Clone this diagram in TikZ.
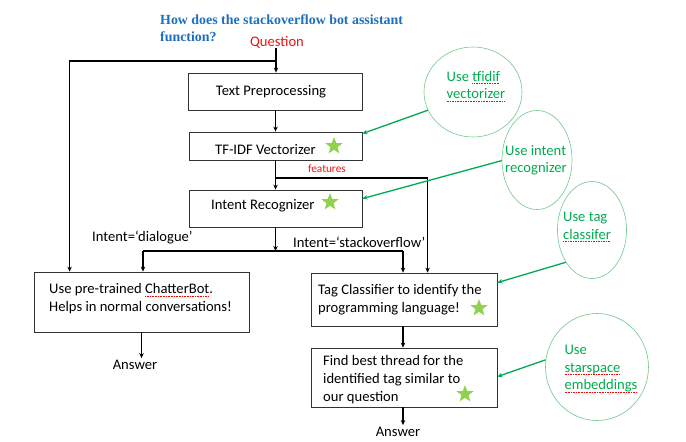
\documentclass[tikz,border=0pt]{standalone}
\usepackage{fontspec}
\setmainfont{Carlito}
\newfontfamily\titlefont{Liberation Serif}
\usetikzlibrary{shapes.geometric,arrows.meta}
\definecolor{titleblue}{RGB}{30,110,190}
\definecolor{qred}{RGB}{235,20,20}
\definecolor{ogreen}{RGB}{0,170,80}
\definecolor{egreen}{RGB}{110,200,140}
\definecolor{sgreen}{RGB}{146,208,80}
\newsavebox\sqbox
\newcommand\squig[1]{\sbox\sqbox{#1}\rlap{\textcolor{red}{\raisebox{-2.5pt}{\hbox to \wd\sqbox{\xleaders\hbox{\rule{1pt}{0.5pt}\kern0.6pt}\hfill}}}}\usebox\sqbox}
\begin{document}
\begin{tikzpicture}[x=1pt,y=-1pt,
  box/.style={draw=black!80, line width=0.8pt, inner sep=0pt},
  txt/.style={font=\fontsize{14.6}{18}\selectfont},
  arr/.style={-{Stealth[length=5pt,width=4.5pt]}, line width=1.1pt},
  ln/.style={line width=1.1pt},
  garr/.style={draw=ogreen, line width=1.3pt, -{Stealth[length=5pt,width=4.5pt]}},
  ell/.style={ellipse, draw=egreen, line width=0.6pt, inner sep=0pt},
  etxt/.style={text=ogreen, align=left, inner sep=0pt, font=\fontsize{14.6}{17.5}\selectfont},
  star5/.style={star, star points=5, star point ratio=2.4, fill=sgreen, minimum size=18pt, inner sep=0pt}
]
\useasboundingbox (0,0) rectangle (686,442);

% title
\node[anchor=north west, align=left, text=titleblue, inner sep=0pt,
      font=\titlefont\bfseries\fontsize{13.9}{16.5}\selectfont] (title) at (160,15)
  {How does the stackoverflow bot assistant\\function?};

\node[txt, text=qred, inner sep=0pt] (q) at (277,42) {Question};

% boxes
\node[box, minimum width=174pt, minimum height=37pt] (tp) at (275,91.5) {};
\node[box, minimum width=173pt, minimum height=28pt] (tf) at (275.5,146) {};
\node[box, minimum width=173pt, minimum height=37pt] (ir) at (275.5,208.5) {};
\node[box, minimum width=215pt, minimum height=60pt] (cb) at (141.5,302) {};
\node[box, minimum width=186pt, minimum height=53pt] (tag) at (404,299.5) {};
\node[box, minimum width=186pt, minimum height=59pt] (fd) at (404,377.5) {};

% box texts
\node[txt, inner sep=0pt] (tpt) at (271,92) {Text Preprocessing};
\node[txt, anchor=west, inner sep=0pt] (tft) at (215,150) {TF-IDF Vectorizer};
\node[txt, anchor=west, inner sep=0pt] (irt) at (211,206) {Intent Recognizer};
\node[txt, anchor=west, align=left, inner sep=0pt] (cbt) at (49,299)
  {Use pre-trained \squig{ChatterBot}.\\Helps in normal conversations!};
\node[txt, anchor=west, align=left, inner sep=0pt] (tagt) at (318,300)
  {Tag Classifier to identify the\\programming language!};
\node[txt, anchor=west, align=left, inner sep=0pt] (fdt) at (323,380)
  {Find best thread for the\\identified tag similar to\\our question};

% stars
\node[star5] (s1) at (334,146) {};
\node[star5] (s2) at (330,202) {};
\node[star5] (s3) at (479,308) {};
\node[star5] (s4) at (465,394) {};

% labels
\node[text=qred, inner sep=0pt, font=\fontsize{11.3}{13}\selectfont] (feat) at (327,169) {features};
\node[txt, anchor=west, inner sep=0pt] (ld) at (92,237) {Intent=‘dialogue’};
\node[txt, anchor=west, inner sep=0pt] (ls) at (293,242) {Intent=‘stackoverflow’};
\node[txt, inner sep=2pt] (a1) at (135,365) {Answer};
\node[txt, inner sep=2pt] (a2) at (398,432) {Answer};

% black connectors
\coordinate (j1) at (276,61);
\coordinate (j2) at (275.5,178);
\coordinate (j3) at (275.5,251);
\coordinate (bl) at (143,251);
\coordinate (br) at (403,251);
\draw[arr] (q.south -| j1) -- (j1 |- tp.north);
\draw[arr] (j1) -| ([xshift=36pt]cb.north west);
\draw[arr] (tp.south -| tf.north) -- (tf.north);
\draw[arr] (tf.south) -- (ir.north);
\draw[arr] (j2) -| ([xshift=117pt]tag.north west);
\draw[arr] (ir.south) -- (j3);
\draw[ln] (bl) -- (br);
\draw[arr] (bl) -- (bl |- cb.north);
\draw[arr] (br) -- (br |- tag.north);
\draw[arr] (tag.south -| br) -- (fd.north -| br);
\draw[arr] (cb.south) -- (cb.south |- a1.north);
\draw[arr] (fd.south -| br) -- (br |- a2.north);

% ellipses
\node[ell, minimum width=98pt, minimum height=90pt] (e1) at (473,92) {};
\node[ell, minimum width=70pt, minimum height=99pt] (e2) at (537,160) {};
\node[ell, minimum width=69pt, minimum height=97pt] (e3) at (592,230) {};
\node[ell, minimum width=103pt, minimum height=107pt] (e4) at (597,367) {};
\node[etxt] (e1t) at (476,86) {Use \squig{tfidif}\\\squig{vectorizer}};
\node[etxt] (e2t) at (536,160) {Use intent\\recognizer};
\node[etxt] (e3t) at (587,227) {Use tag\\\squig{classifer}};
\node[etxt] (e4t) at (601,369) {Use\\\squig{starspace}\\\squig{embeddings}};

% green connectors
\draw[garr] (e1.202) -- ([yshift=-2pt]tf.north east);
\draw[garr] (e2.181) -- ([yshift=-9pt]ir.north east);
\draw[garr] (e3.231) -- ([yshift=-10pt]tag.north east);
\draw[garr] (e4.172) -- ([yshift=-29pt]fd.north east);
\end{tikzpicture}
\end{document}
